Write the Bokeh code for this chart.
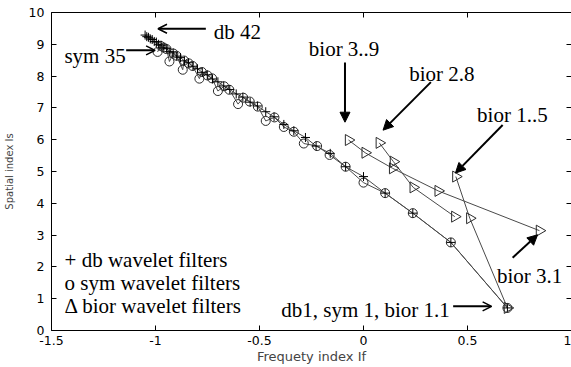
import numpy as np
from bokeh.plotting import figure
from bokeh.models import (LinearAxis, FixedTicker, Range1d, Arrow,
                          NormalHead, OpenHead)
from bokeh.core.properties import value
from bokeh.embed import file_html
from bokeh.resources import INLINE

# ---------------- data ----------------
db_x = [0.692, 0.420, 0.237, 0.104, 0.000, -0.086, -0.160, -0.228, -0.279, -0.335,
        -0.383, -0.430, -0.470, -0.510, -0.545, -0.580, -0.612, -0.643, -0.672, -0.700,
        -0.726, -0.751, -0.775, -0.798, -0.820, -0.841, -0.861, -0.880, -0.898, -0.915,
        -0.931, -0.946, -0.960, -0.973, -0.985, -0.996, -1.006, -1.016, -1.025, -1.034,
        -1.042, -1.050]
db_y = [0.71, 2.77, 3.69, 4.32, 4.84, 5.15, 5.57, 5.80, 6.07, 6.28,
        6.48, 6.72, 6.88, 7.06, 7.18, 7.34, 7.44, 7.58, 7.69, 7.82,
        7.91, 8.04, 8.12, 8.23, 8.31, 8.42, 8.48, 8.58, 8.63, 8.73,
        8.77, 8.86, 8.89, 8.97, 9.00, 9.07, 9.09, 9.15, 9.17, 9.22,
        9.24, 9.29]

sym_x = [0.692, 0.420, 0.237, 0.104, 0.000, -0.086, -0.163, -0.223, -0.287, -0.335,
         -0.383, -0.428, -0.470, -0.508, -0.547, -0.578, -0.603, -0.645, -0.670, -0.700,
         -0.728, -0.750, -0.777, -0.789, -0.822, -0.840, -0.863, -0.869, -0.899, -0.914,
         -0.933, -0.947, -0.961, -0.975, -0.990]
sym_y = [0.71, 2.77, 3.69, 4.32, 4.65, 5.15, 5.52, 5.80, 5.88, 6.25,
         6.40, 6.70, 6.59, 7.04, 7.20, 7.32, 7.12, 7.57, 7.68, 7.53,
         7.93, 8.02, 8.13, 7.92, 8.32, 8.40, 8.49, 8.20, 8.64, 8.71,
         8.46, 8.85, 8.90, 8.95, 8.76]

bior1_x = [0.692, 0.511, 0.444]
bior1_y = [0.71, 3.53, 4.84]
bior2_x = [0.439, 0.239, 0.144, 0.076]
bior2_y = [3.58, 4.50, 5.31, 5.90]
bior3_x = [0.846, 0.359, 0.140, 0.008, -0.072]
bior3_y = [3.14, 4.39, 5.10, 5.59, 5.99]

x_ticks = [-1.5, -1, -0.5, 0, 0.5, 1]
x_tick_labels = ["-1.5", "-1", "-0.5", "0", "0.5", "1"]
y_ticks = [0, 1, 2, 3, 4, 5, 6, 7, 8, 9, 10]

# annotation texts with their anchor (data coords)
note_text = ["db 42", "sym 35", "bior 3..9", "bior 2.8", "bior 1..5", "bior 3.1",
             "+ db wavelet filters", "o sym wavelet filters", "\u0394 bior wavelet filters"]
note_x = [-0.72, -1.438, -0.263, 0.22, 0.546, 0.642, -1.437, -1.437, -1.437]
note_y = [9.39, 8.62, 8.86, 8.08, 6.77, 1.70, 2.23, 1.50, 0.78]

# ---------------- figure ----------------
p = figure(width=571, height=367, x_range=Range1d(-1.5, 1.0), y_range=Range1d(0, 10),
           output_backend="svg", toolbar_location=None,
           min_border_left=50, min_border_right=0, min_border_top=12, min_border_bottom=37)
p.outline_line_color = None
p.xgrid.visible = False
p.ygrid.visible = False
p.background_fill_color = "white"
p.border_fill_color = "white"

TICK_FONT = "DejaVu Sans"


def style_axis(ax, show_labels=True, show_line=True):
    ax.axis_line_color = "black" if show_line else None
    ax.axis_line_width = 1
    ax.major_tick_line_color = "black"
    ax.major_tick_in = 5
    ax.major_tick_out = 0
    ax.minor_tick_line_color = None
    ax.major_label_text_font = TICK_FONT
    if show_labels:
        ax.major_label_text_color = "black"
        ax.major_label_text_font_size = "12.5px"
    else:
        ax.major_label_text_color = None
        ax.major_label_text_font_size = "0px"
        ax.major_label_standoff = 0


xa = p.xaxis[0]
xa.ticker = FixedTicker(ticks=x_ticks)
xa.major_label_overrides = {t: s for t, s in zip(x_ticks, x_tick_labels)}
style_axis(xa)
xa.major_label_standoff = 5
xa.axis_label = "Frequety index If"
xa.axis_label_text_font = TICK_FONT
xa.axis_label_text_font_style = "normal"
xa.axis_label_text_font_size = "13px"
xa.axis_label_standoff = 1

ya = p.yaxis[0]
ya.ticker = FixedTicker(ticks=y_ticks)
style_axis(ya)
ya.major_label_standoff = 7
ya.axis_label = "Spatial index Is"
ya.axis_label_text_font = TICK_FONT
ya.axis_label_text_font_style = "normal"
ya.axis_label_text_font_size = "10px"
ya.axis_label_standoff = 11

top = LinearAxis(ticker=FixedTicker(ticks=x_ticks))
style_axis(top, show_labels=False)
p.add_layout(top, "above")

right = LinearAxis(ticker=FixedTicker(ticks=y_ticks))
style_axis(right, show_labels=False, show_line=False)
p.add_layout(right, "right")

# ---------------- series ----------------
LINE_C = "#4a4a4a"
MARK_C = "#2a2a2a"

p.line(db_x, db_y, line_color=LINE_C, line_width=1)
p.line(sym_x, sym_y, line_color=LINE_C, line_width=1)
for bx, by in [(bior1_x, bior1_y), (bior2_x, bior2_y), (bior3_x, bior3_y)]:
    p.line(bx, by, line_color=LINE_C, line_width=1)

p.scatter(sym_x, sym_y, marker="circle", size=9, fill_color=None,
          line_color=MARK_C, line_width=1)
p.scatter(db_x, db_y, marker="cross", size=9, line_color="black", line_width=1)
for bx, by in [(bior1_x, bior1_y), (bior2_x, bior2_y), (bior3_x, bior3_y)]:
    p.scatter(bx, by, marker="triangle", angle=-np.pi / 2, size=11, fill_color=None,
              line_color=MARK_C, line_width=1)

# ---------------- annotations ----------------
SERIF = "Liberation Serif"

p.text(x=note_x, y=note_y, text=note_text, text_font=value(SERIF),
       text_font_size=value("21px"), text_color="black", text_align="left",
       text_baseline="alphabetic")
p.text(x=[0.415], y=[0.66], text=["db1, sym 1, bior 1.1"], text_font=value(SERIF),
       text_font_size=value("21px"), text_color="black", text_align="right",
       text_baseline="alphabetic")


def arrow(x0, y0, x1, y1, head="normal"):
    if head == "open":
        h = OpenHead(size=9, line_color="black", line_width=1.5)
    else:
        h = NormalHead(size=10, fill_color="black", line_color="black", line_width=1)
    p.add_layout(Arrow(end=h, x_start=x0, y_start=y0, x_end=x1, y_end=y1,
                       line_color="black", line_width=2))


arrow(-0.758, 9.49, -0.988, 9.49, head="open")   # db 42
arrow(-1.141, 8.81, -1.002, 8.81, head="open")   # sym 35
arrow(-0.089, 8.43, -0.089, 6.55)                # bior 3..9
arrow(0.324, 7.81, 0.094, 6.30)                  # bior 2.8
arrow(0.669, 6.46, 0.442, 4.95)                  # bior 1..5
arrow(0.717, 2.29, 0.837, 3.01)                  # bior 3.1
arrow(0.431, 0.76, 0.616, 0.76, head="open")     # db1, sym 1, bior 1.1

open("out.html", "w").write(file_html(p, INLINE))
